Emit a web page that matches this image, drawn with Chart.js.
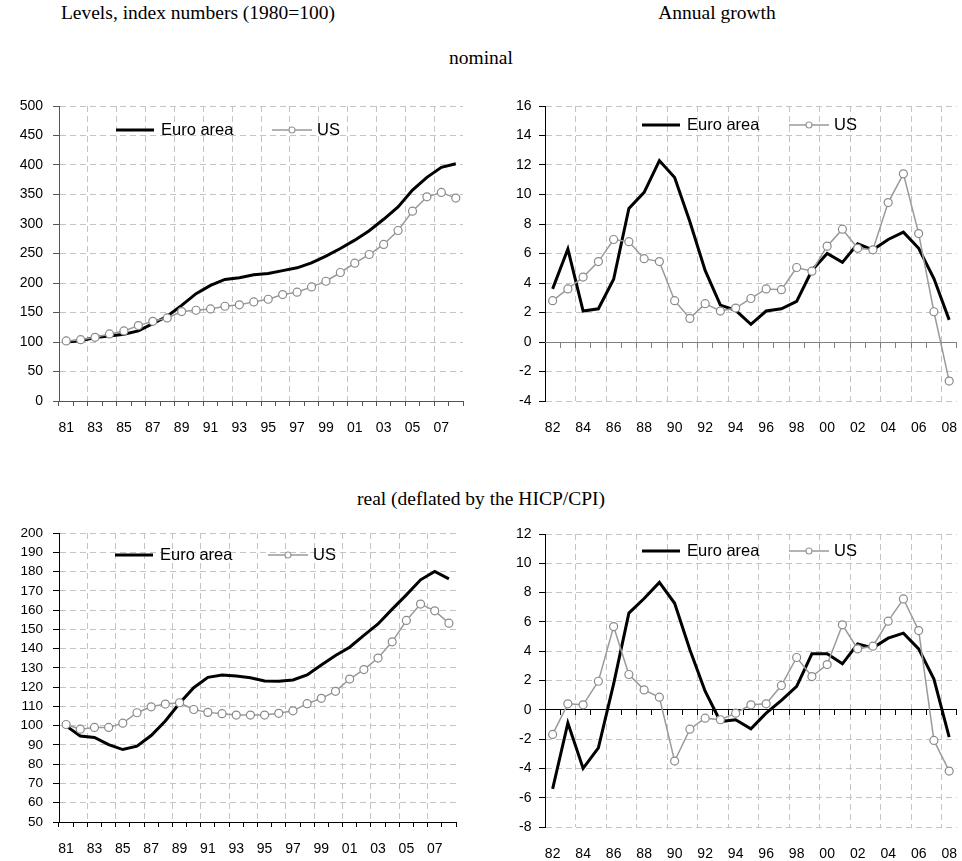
<!DOCTYPE html>
<html>
<head>
<meta charset="utf-8">
<title>House prices: euro area and US</title>
<script src="https://cdn.jsdelivr.net/npm/chart.js@4.4.1/dist/chart.umd.min.js"></script>
<style>
  body { margin: 0; background: #fff; }
  #page { position: relative; width: 962px; height: 861px; overflow: hidden; background: #fff; }
  .title { position: absolute; font-family: "Liberation Serif", "Times New Roman", serif; font-size: 19.5px; line-height: 20px; color: #000; white-space: nowrap; transform: translateX(-50%); }
  canvas { position: absolute; }
</style>
</head>
<body>
<div id="page">
  <div class="title" style="left:198px; top:3px;">Levels, index numbers (1980=100)</div>
  <div class="title" style="left:717px; top:3px;">Annual growth</div>
  <div class="title" style="left:481px; top:48px;">nominal</div>
  <div class="title" style="left:481px; top:489px;">real (deflated by the HICP/CPI)</div>

  <canvas id="nomLevel" width="480" height="360" style="left:0; top:90px;"></canvas>
  <canvas id="nomGrowth" width="482" height="360" style="left:480px; top:90px;"></canvas>
  <canvas id="realLevel" width="480" height="341" style="left:0; top:520px;"></canvas>
  <canvas id="realGrowth" width="482" height="341" style="left:480px; top:520px;"></canvas>
</div>

<script>
// categories
const levelYears = ['81', '82', '83', '84', '85', '86', '87', '88', '89', '90', '91', '92', '93', '94',
  '95', '96', '97', '98', '99', '00', '01', '02', '03', '04', '05', '06', '07', '08'];
const growthYears = ['82', '83', '84', '85', '86', '87', '88', '89', '90', '91', '92', '93', '94',
  '95', '96', '97', '98', '99', '00', '01', '02', '03', '04', '05', '06', '07', '08'];

const seriesNames = ['Euro area', 'US'];

// nominal, index 1980=100
const nominalLevelEuro = [100, 102, 107.5, 110, 113, 118.8, 131, 143.7, 162, 182, 196, 206, 209, 214,
  216, 221, 225.7, 234, 245.5, 258.5, 272.6, 288.5, 308, 329, 357.5, 379, 396, 402];
const nominalLevelUS = [101.8, 104, 108, 113.7, 118.8, 127.8, 135, 140.8, 151.6, 153.8, 156, 160.6, 163, 168,
  172.5, 180.4, 184.4, 193.4, 203, 217.8, 233.6, 248.3, 265.3, 289, 321.8, 346, 353.5, 343.9];

// nominal, annual growth %
const nominalGrowthEuro = [3.6, 6.3, 2.1, 2.25, 4.25, 9.05, 10.15, 12.3, 11.15, 8.15, 4.85, 2.5, 2.15,
  1.2, 2.1, 2.25, 2.75, 4.85, 6.0, 5.4, 6.65, 6.25, 6.95, 7.45, 6.35, 4.3, 1.5];
const nominalGrowthUS = [2.8, 3.6, 4.4, 5.45, 6.95, 6.8, 5.65, 5.45, 2.8, 1.6, 2.6, 2.1, 2.3,
  2.95, 3.6, 3.55, 5.05, 4.8, 6.5, 7.65, 6.35, 6.25, 9.45, 11.4, 7.35, 2.05, -2.65];

// real, index 1980=100
const realLevelEuro = [99.9, 94.6, 93.9, 90.2, 87.6, 89.4, 94.9, 102.4, 111.6, 119.7, 125.1, 126.3, 125.8, 124.9,
  123.2, 123, 123.7, 126.3, 131.5, 136.4, 140.7, 146.9, 152.8, 160.5, 167.9, 175.7, 180, 176.2];
const realLevelUS = [100.6, 98.2, 99.1, 99.1, 101.3, 106.7, 109.8, 111.2, 111.9, 108.4, 106.9, 106.2, 105.5, 105.5,
  105.5, 106.4, 107.7, 111.4, 114.2, 117.8, 124.2, 129.1, 135.1, 143.5, 154.6, 163.1, 159.6, 153.2];

// real, annual growth %
const realGrowthEuro = [-5.4, -0.9, -4.0, -2.6, 1.77, 6.6, 7.6, 8.7, 7.27, 4.1, 1.27, -0.8, -0.68,
  -1.3, -0.23, 0.64, 1.6, 3.82, 3.82, 3.14, 4.5, 4.23, 4.89, 5.23, 4.16, 2.1, -1.86];
const realGrowthUS = [-1.68, 0.41, 0.34, 1.95, 5.68, 2.41, 1.36, 0.86, -3.5, -1.32, -0.57, -0.68, -0.23,
  0.34, 0.41, 1.66, 3.57, 2.27, 3.09, 5.8, 4.16, 4.34, 6.05, 7.57, 5.41, -2.09, -4.18];

const GRID = '#c4c4c4';
const DASH = [6, 4];
const FONT = '"Liberation Sans", Arial, sans-serif';

Chart.defaults.font.family = FONT;
Chart.defaults.color = '#000';

// Excel-style legend sitting inside the plot area
const insideLegend = {
  id: 'insideLegend',
  afterDraw(chart, args, opts) {
    const { ctx, chartArea } = chart;
    const [euro, us] = chart.data.datasets;
    const x = chartArea.left + opts.x;
    const y = chartArea.top + opts.y;
    ctx.save();
    ctx.font = '16.5px ' + FONT;
    ctx.textBaseline = 'middle';

    ctx.strokeStyle = euro.borderColor;
    ctx.lineWidth = euro.borderWidth;
    ctx.beginPath();
    ctx.moveTo(x, y);
    ctx.lineTo(x + 38, y);
    ctx.stroke();
    ctx.fillStyle = '#000';
    ctx.fillText(euro.label, x + 45, y);

    const ux = x + opts.gap;
    ctx.strokeStyle = us.borderColor;
    ctx.lineWidth = us.borderWidth;
    ctx.beginPath();
    ctx.moveTo(ux, y);
    ctx.lineTo(ux + 40, y);
    ctx.stroke();
    ctx.beginPath();
    ctx.arc(ux + 20, y, 3, 0, Math.PI * 2);
    ctx.fillStyle = '#fff';
    ctx.fill();
    ctx.lineWidth = 1.2;
    ctx.stroke();
    ctx.fillStyle = '#000';
    ctx.fillText(us.label, ux + 45, y);
    ctx.restore();
  }
};

function noPadding(scale) {
  scale.paddingLeft = 0;
  scale.paddingRight = 0;
  scale.paddingTop = 0;
  scale.paddingBottom = 0;
}

function makePanel(id, cfg) {
  const scales = {
    x: {
      type: 'category',
      offset: true,
      grid: {
        offset: true,
        drawTicks: !cfg.zeroColor,
        tickLength: 5,
        tickBorderDash: [],
        color: (c) => (c.index > 0 && c.index % 2 === 0) ? GRID : 'rgba(0,0,0,0)',
        tickColor: cfg.axisColor
      },
      border: { display: !cfg.zeroColor, color: cfg.axisColor, dash: DASH },
      ticks: {
        autoSkip: false,
        maxRotation: 0,
        padding: cfg.xPad,
        font: { size: 14 },
        callback: (v, i) => i % 2 === 0 ? cfg.labels[i] : ''
      },
      afterFit: (s) => { s.height = cfg.xHeight; noPadding(s); }
    },
    y: {
      min: cfg.min,
      max: cfg.max,
      ticks: { stepSize: cfg.step, autoSkip: false, padding: cfg.yPad, font: { size: cfg.yFont || 14 } },
      grid: { color: GRID, tickColor: cfg.axisColor, tickLength: 6, tickBorderDash: [] },
      border: { color: cfg.axisColor, dash: DASH },
      afterFit: (s) => { s.width = cfg.yWidth; noPadding(s); }
    }
  };

  // growth panels: axis line at zero, labels kept at the bottom
  if (cfg.zeroColor) {
    scales.x0 = {
      type: 'category',
      position: { y: 0 },
      offset: true,
      grid: {
        offset: true,
        drawOnChartArea: false,
        tickLength: 5,
        color: cfg.zeroColor,
        tickColor: cfg.zeroColor
      },
      border: { color: cfg.zeroColor },
      ticks: { display: false },
      afterFit: (s) => noPadding(s)
    };
  }

  return new Chart(document.getElementById(id), {
    type: 'line',
    data: {
      labels: cfg.labels,
      datasets: [
        {
          label: seriesNames[0],
          data: cfg.euro,
          borderColor: '#000',
          borderWidth: 3,
          pointRadius: 0,
          tension: 0,
          order: 1
        },
        {
          label: seriesNames[1],
          data: cfg.us,
          borderColor: '#9a9a9a',
          borderWidth: 1.5,
          pointRadius: 4,
          pointBorderWidth: 1.2,
          pointBorderColor: '#8a8a8a',
          pointBackgroundColor: '#fff',
          tension: 0,
          order: 0
        }
      ]
    },
    options: {
      responsive: false,
      animation: false,
      events: [],
      layout: { padding: { top: cfg.padTop, right: cfg.padRight, left: 0, bottom: 0 } },
      scales: scales,
      plugins: {
        legend: { display: false },
        tooltip: { enabled: false },
        insideLegend: cfg.legend
      }
    },
    plugins: [insideLegend]
  });
}

makePanel('nomLevel', {
  labels: levelYears, euro: nominalLevelEuro, us: nominalLevelUS,
  min: 0, max: 500, step: 50,
  yWidth: 59, xHeight: 49, padTop: 16, padRight: 17, yPad: 10, xPad: 13.6,
  axisColor: '#555',
  legend: { x: 57, y: 24, gap: 156 }
});

makePanel('nomGrowth', {
  labels: growthYears, euro: nominalGrowthEuro, us: nominalGrowthUS,
  min: -4, max: 16, step: 2,
  yWidth: 65, xHeight: 49, padTop: 16, padRight: 4, yPad: 7.5, xPad: 18.6,
  axisColor: '#000', zeroColor: '#808080',
  legend: { x: 97, y: 19, gap: 147 }
});

makePanel('realLevel', {
  labels: levelYears, euro: realLevelEuro, us: realLevelUS,
  min: 50, max: 200, step: 10,
  yWidth: 59, xHeight: 39, padTop: 13, padRight: 24, yPad: 10, xPad: 13.6, yFont: 13.5,
  axisColor: '#000',
  legend: { x: 56, y: 22, gap: 153 }
});

makePanel('realGrowth', {
  labels: growthYears, euro: realGrowthEuro, us: realGrowthUS,
  min: -8, max: 12, step: 2,
  yWidth: 65, xHeight: 34, padTop: 14, padRight: 4, yPad: 7.5, xPad: 18.6,
  axisColor: '#000', zeroColor: '#000',
  legend: { x: 97, y: 17, gap: 147 }
});
</script>
</body>
</html>
